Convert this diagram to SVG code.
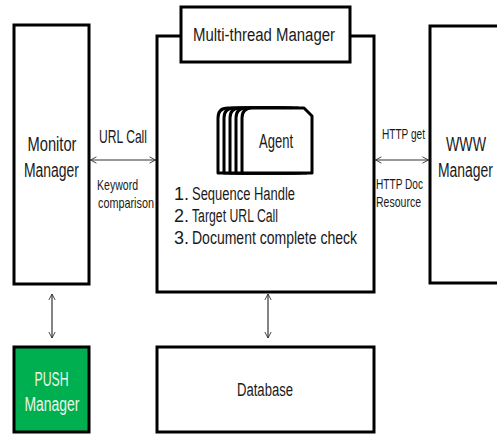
<svg xmlns="http://www.w3.org/2000/svg" width="497" height="434" viewBox="0 0 497 434">
  <style>
    .box { fill: #ffffff; stroke: #000000; stroke-width: 3; }
    .push { fill: #00b050; stroke: #000000; stroke-width: 3; }
    .card { fill: #ffffff; stroke: #000000; stroke-width: 3; stroke-linejoin: round; }
    .lbl { font-family: "Liberation Sans", Arial, sans-serif; fill: #1a1a1a; }
    .big { font-size: 19.5px; }
    .mid { font-size: 18px; }
    .sm { font-size: 14.5px; }
    .light { fill: #eaf6ea; }
    .link { stroke: #333333; stroke-width: 1.2; fill: none; marker-start: url(#head); marker-end: url(#head); }
  </style>
  <defs>
    <marker id="head" viewBox="0 0 10 10" refX="9.5" refY="5" markerWidth="7" markerHeight="10" markerUnits="userSpaceOnUse" orient="auto-start-reverse">
      <path d="M1,0.5 L9.5,5 L1,9.5" fill="none" stroke="#333333" stroke-width="1.3"/>
    </marker>
    <path id="agentCard" d="M0,65 L0,10 Q0,0 10,0 L62,0 L70,8 L70,65 Z"/>
  </defs>

  <rect width="497" height="434" fill="#ffffff"/>

  <!-- connectors -->
  <g id="connectors">
    <line class="link" x1="90.5" y1="160" x2="155.5" y2="160"/>
    <line class="link" x1="375.5" y1="160" x2="428.5" y2="160"/>
    <line class="link" x1="52" y1="294" x2="52" y2="338"/>
    <line class="link" x1="268" y1="294" x2="268" y2="338"/>
  </g>

  <g id="monitor-manager">
    <rect class="box" x="14" y="25" width="75" height="259"/>
    <text class="lbl big" x="27.5" y="151" textLength="49" lengthAdjust="spacingAndGlyphs">Monitor</text>
    <text class="lbl big" x="24" y="177" textLength="55" lengthAdjust="spacingAndGlyphs">Manager</text>
  </g>

  <g id="url-call-labels">
    <text class="lbl mid" x="99" y="143" textLength="48" lengthAdjust="spacingAndGlyphs">URL Call</text>
    <text class="lbl sm" x="97" y="190" textLength="41" lengthAdjust="spacingAndGlyphs">Keyword</text>
    <text class="lbl sm" x="98" y="208" textLength="56" lengthAdjust="spacingAndGlyphs">comparison</text>
  </g>

  <g id="agent-core">
    <rect class="box" x="157" y="36" width="217" height="256"/>
    <g id="agent-stack">
      <use href="#agentCard" class="card" x="218" y="108"/>
      <use href="#agentCard" class="card" x="224" y="108"/>
      <use href="#agentCard" class="card" x="230" y="108"/>
      <use href="#agentCard" class="card" x="236" y="108"/>
      <use href="#agentCard" class="card" x="242" y="108"/>
      <text class="lbl big" x="259" y="148" textLength="34" lengthAdjust="spacingAndGlyphs">Agent</text>
    </g>
    <text class="lbl mid" x="174" y="200">1.</text>
    <text class="lbl mid" x="192" y="200" textLength="103" lengthAdjust="spacingAndGlyphs">Sequence Handle</text>
    <text class="lbl mid" x="174" y="222">2.</text>
    <text class="lbl mid" x="192" y="222" textLength="86" lengthAdjust="spacingAndGlyphs">Target URL Call</text>
    <text class="lbl mid" x="174" y="244">3.</text>
    <text class="lbl mid" x="192" y="244" textLength="165" lengthAdjust="spacingAndGlyphs">Document complete check</text>
  </g>

  <g id="multi-thread-manager">
    <rect class="box" x="181" y="7" width="169" height="55"/>
    <text class="lbl mid" x="193" y="41" textLength="142" lengthAdjust="spacingAndGlyphs">Multi-thread Manager</text>
  </g>

  <g id="http-labels">
    <text class="lbl sm" x="382" y="139" textLength="43" lengthAdjust="spacingAndGlyphs">HTTP get</text>
    <text class="lbl sm" x="376" y="189" textLength="47" lengthAdjust="spacingAndGlyphs">HTTP Doc</text>
    <text class="lbl sm" x="376" y="207" textLength="45" lengthAdjust="spacingAndGlyphs">Resource</text>
  </g>

  <g id="www-manager">
    <!-- right edge sits just past the canvas border -->
    <rect class="box" x="430" y="26" width="69" height="257"/>
    <text class="lbl big" x="446" y="151" textLength="40" lengthAdjust="spacingAndGlyphs">WWW</text>
    <text class="lbl big" x="438" y="177" textLength="55" lengthAdjust="spacingAndGlyphs">Manager</text>
  </g>

  <g id="push-manager">
    <rect class="push" x="14" y="347" width="75" height="85"/>
    <text class="lbl big light" x="34.5" y="386" textLength="34" lengthAdjust="spacingAndGlyphs">PUSH</text>
    <text class="lbl big light" x="24.5" y="411" textLength="55" lengthAdjust="spacingAndGlyphs">Manager</text>
  </g>

  <g id="database">
    <rect class="box" x="157" y="347" width="217" height="85"/>
    <text class="lbl mid" x="237" y="396" textLength="56" lengthAdjust="spacingAndGlyphs">Database</text>
  </g>
</svg>
